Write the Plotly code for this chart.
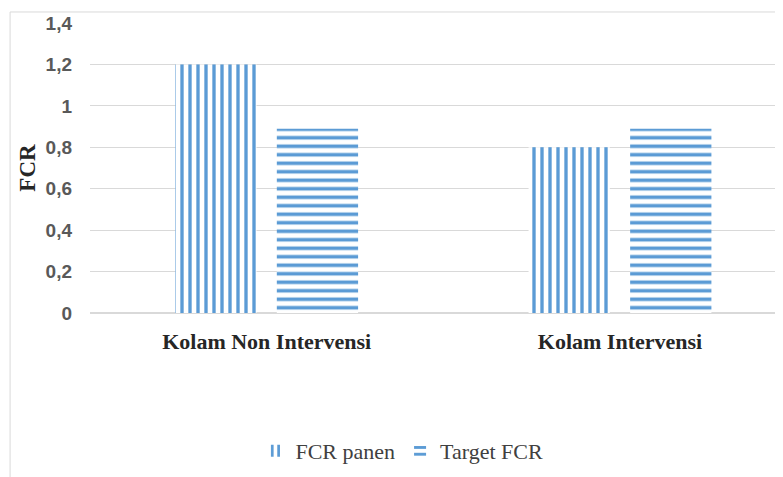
import plotly.graph_objects as go

categories = ["Kolam Non Intervensi", "Kolam Intervensi"]
fcr_panen = [1.2, 0.8]
target_fcr = [0.89, 0.89]

BLUE = "#5B9BD5"
SERIF = "Liberation Serif, Times New Roman, serif"

fig = go.Figure()
fig.add_trace(go.Bar(
    x=categories, y=fcr_panen, name="FCR panen",
    marker=dict(color="white", line=dict(width=0),
                pattern=dict(shape="|", fgcolor=BLUE, bgcolor="white",
                             size=8, solidity=0.42, fillmode="replace")),
))
fig.add_trace(go.Bar(
    x=categories, y=target_fcr, name="Target FCR",
    marker=dict(color="white", line=dict(width=0),
                pattern=dict(shape="-", fgcolor=BLUE, bgcolor="white",
                             size=8.5, solidity=0.42, fillmode="replace")),
))

fig.update_layout(
    width=783, height=477,
    margin=dict(l=82, r=0, t=15, b=172),
    paper_bgcolor="white", plot_bgcolor="white",
    separators=",.",
    barmode="group", bargap=0.425, bargroupgap=0.2,
    showlegend=True,
    legend=dict(orientation="h", x=0.445, xanchor="center", y=-0.476, yanchor="middle",
                font=dict(family=SERIF, size=22, color="#404040"),
                itemwidth=30, traceorder="normal"),
    shapes=[
        dict(type="line", xref="paper", yref="paper", x0=-0.114, x1=-0.114, y0=1.038, y1=-0.7,
             line=dict(color="#D9D9D9", width=1)),
        dict(type="line", xref="paper", yref="paper", x0=-0.114, x1=1, y0=1.038, y1=1.038,
             line=dict(color="#D9D9D9", width=1)),
    ],
)

fig.update_xaxes(
    range=[-0.5, 1.484], showgrid=False, showline=False, zeroline=False,
    ticks="", ticklabelstandoff=13,
    tickfont=dict(family=SERIF, size=22, color="#262626", weight="bold"),
)
fig.update_yaxes(
    range=[0, 1.4], dtick=0.2, showgrid=True, gridcolor="#D9D9D9", gridwidth=1,
    zeroline=True, zerolinecolor="#D9D9D9", showline=False,
    ticks="", ticklabelstandoff=17,
    tickfont=dict(family="Liberation Sans", size=19, color="#595959", weight="bold"),
    title=dict(text="FCR", standoff=3,
               font=dict(family=SERIF, size=23, color="#262626", weight="bold")),
)

fig.write_html("out.html")
